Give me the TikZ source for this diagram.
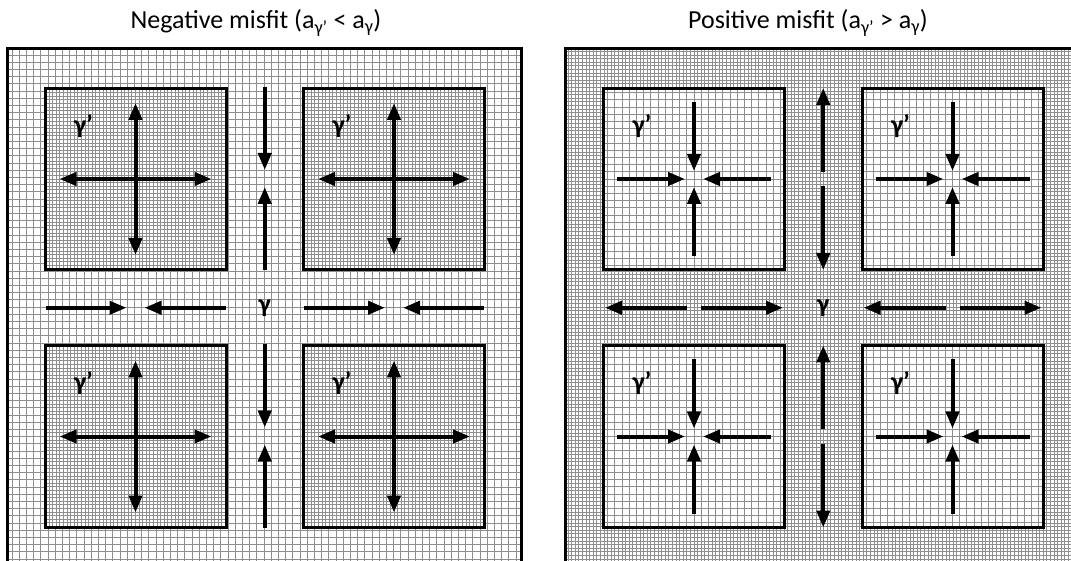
\documentclass[tikz,border=0pt]{standalone}
\usepackage{fontspec}
\setmainfont{Carlito}
\usetikzlibrary{arrows.meta,calc}

\definecolor{gridA}{HTML}{8E8E8E}

\begin{document}
\begin{tikzpicture}[x=1pt, y=1pt,
    gridl/.style={draw=gridA, line width=0.95pt},
    panel/.style={draw=black, line width=3pt, fill=white, inner sep=0pt,
        minimum height=516pt},
    cell/.style={draw=black, line width=3pt, fill=white, inner sep=0pt,
        minimum width=181pt, minimum height=181pt},
    sparse/.style={path picture={\draw[gridl, step=7.2pt]
        (path picture bounding box.south west) grid (path picture bounding box.north east);}},
    dense/.style={path picture={\draw[gridl, step=3.6pt]
        (path picture bounding box.south west) grid (path picture bounding box.north east);}},
    push/.style={-{Triangle[length=17pt,width=13pt]}, line width=4pt},
    both/.style={{Triangle[length=17pt,width=13pt]}-{Triangle[length=17pt,width=13pt]}, line width=4pt},
    prime/.style={font=\fontsize{26}{28}\selectfont\bfseries},
    gam/.style={font=\fontsize{26}{28}\selectfont\bfseries},
    ttl/.style={font=\fontsize{26}{30}\selectfont},
]
\useasboundingbox (0,0) rectangle (1071,560);
\clip (0,0) rectangle (1071,560);

% Titles
\node[ttl] (tL) at (256,537) {Negative misfit (a\textsubscript{γ'} < a\textsubscript{γ})};
\node[ttl] (tR) at (808,537) {Positive misfit (a\textsubscript{γ'} > a\textsubscript{γ})};

% Panels (matrix grid)
\node[panel, sparse, minimum width=514pt] (pL) at (264,253) {};
\node[panel, dense, minimum width=510pt] (pR) at (820,253) {};

% Left panel: precipitates
\node[cell, dense] (nA) at (135.5,381) {};
\node[cell, dense] (nB) at (394,381) {};
\node[cell, dense] (nC) at (135.5,123.5) {};
\node[cell, dense] (nD) at (394,123.5) {};

% Right panel: precipitates
\node[cell, sparse] (mA) at (694,381) {};
\node[cell, sparse] (mB) at (952.5,381) {};
\node[cell, sparse] (mC) at (694,123.5) {};
\node[cell, sparse] (mD) at (952.5,123.5) {};

% gamma prime labels
\foreach \b in {nA,nB,nC,nD,mA,mB,mC,mD}
    \node[prime] at ($(\b.north west)+(40,-39)$) {γ'};

% Left: expansion inside precipitates
\foreach \b in {nA,nB,nC,nD} {
    \draw[both] ($(\b)+(-76,0)$) -- ($(\b)+(76,0)$);
    \draw[both] ($(\b)+(0,-76)$) -- ($(\b)+(0,76)$);
}

% Right: compression inside precipitates
\foreach \b in {mA,mB,mC,mD} {
    \draw[push] ($(\b)+(-77,0)$) -- ($(\b)+(-9,0)$);
    \draw[push] ($(\b)+(77,0)$) -- ($(\b)+(9,0)$);
    \draw[push] ($(\b)+(0,77)$) -- ($(\b)+(0,8)$);
    \draw[push] ($(\b)+(0,-77)$) -- ($(\b)+(0,-8)$);
}

% Left channels: pushed inward
\foreach \p/\q in {nA/nB,nC/nD} {
    \coordinate (m) at ($(\p)!0.5!(\q)$);
    \draw[push] ($(m)+(0,92)$) -- ($(m)+(0,9)$);
    \draw[push] ($(m)+(0,-91)$) -- ($(m)+(0,-8)$);
}
\foreach \p/\q in {nA/nC,nB/nD} {
    \coordinate (m) at ($(\p)!0.5!(\q)$);
    \draw[push] ($(m)+(-90,0)$) -- ($(m)+(-9,0)$);
    \draw[push] ($(m)+(90,0)$) -- ($(m)+(9,0)$);
}

% Right channels: pulled outward
\foreach \p/\q in {mA/mB,mC/mD} {
    \coordinate (m) at ($(\p)!0.5!(\q)$);
    \draw[push] ($(m)+(0,7)$) -- ($(m)+(0,91)$);
    \draw[push] ($(m)+(0,-7)$) -- ($(m)+(0,-91)$);
}
\foreach \p/\q in {mA/mC,mB/mD} {
    \coordinate (m) at ($(\p)!0.5!(\q)$);
    \draw[push] ($(m)+(-7,0)$) -- ($(m)+(-89,0)$);
    \draw[push] ($(m)+(7,0)$) -- ($(m)+(89,0)$);
}

% gamma channel labels
\node[gam] (gL) at ($(nA)!0.5!(nD)$) {γ};
\node[gam] (gR) at ($(mA)!0.5!(mD)$) {γ};

\end{tikzpicture}
\end{document}
